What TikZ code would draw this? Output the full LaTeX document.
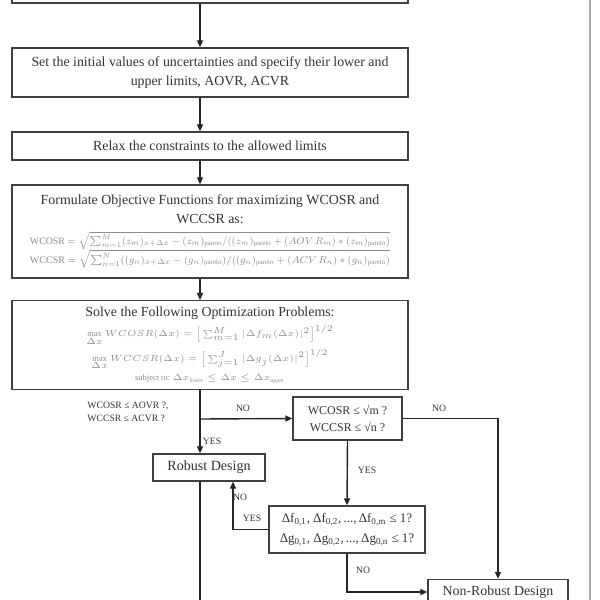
\documentclass[tikz,border=0pt]{standalone}
\usepackage{fontspec}
\setmainfont{Liberation Serif}
\usepackage{amsmath}
\usepackage{graphicx}
\usetikzlibrary{arrows.meta, positioning, calc}

\newcommand{\eqtxt}[1]{{\color{black!45}\fontsize{4.8}{6}\selectfont #1}}

\begin{document}
\begin{tikzpicture}[>={Triangle[length=4pt, width=3.5pt]}, line width=0.7pt,
    procbox/.style={draw=black!75, line width=0.8pt, minimum width=7.92cm,
      align=center, text=black!80, font=\fontsize{7.9}{10.8}\selectfont},
    testbox/.style={draw=black!75, line width=0.8pt, align=center,
      text=black!80, font=\fontsize{6.8}{10}\selectfont},
    flow/.style={->, draw=black!85, line width=0.8pt},
    lbl/.style={text=black!80, font=\fontsize{5.5}{7}\selectfont, inner sep=1pt}]
  \useasboundingbox (0,0) rectangle (12,-12);

  % main column
  \node[procbox, minimum height=0.6cm] (prev) at (4.2, 0.24) {};
  \node[procbox, minimum height=0.98cm] (init) at (4.2, -1.45)
    {Set the initial values of uncertainties and specify their lower and\\
     upper limits, AOVR, ACVR};
  \node[procbox, minimum height=0.56cm] (relax) at (4.2, -2.92)
    {Relax the constraints to the allowed limits};
  \node[procbox, minimum height=1.86cm] (objfun) at (4.2, -4.63)
    {Formulate Objective Functions for maximizing WCOSR and\\
     WCCSR as:\\[1pt]
     {\color{black!45}\resizebox{7.2cm}{!}{WCOSR
       $=\sqrt{\sum_{m=1}^{M}(z_m)_{x+\Delta x}-(z_m)_{\mathrm{pareto}}/((z_m)_{\mathrm{pareto}}+(AOV\,R_m)*(z_m)_{\mathrm{pareto}})}$}}\\
     {\color{black!45}\resizebox{7.2cm}{!}{WCCSR
       $=\sqrt{\sum_{n=1}^{N}((g_n)_{x+\Delta x}-(g_n)_{\mathrm{pareto}})/((g_n)_{\mathrm{pareto}}+(ACV\,R_n)*(g_n)_{\mathrm{pareto}})}$}}};
  \node[procbox, minimum height=1.72cm] (solve) at (4.2, -6.9)
    {Solve the Following Optimization Problems:\\[1pt]
     \eqtxt{$\max\limits_{\Delta x} WCOSR(\Delta x)=\Big[\sum_{m=1}^{M}|\Delta f_m(\Delta x)|^2\Big]^{1/2}$}\\[1pt]
     \eqtxt{$\max\limits_{\Delta x} WCCSR(\Delta x)=\Big[\sum_{j=1}^{J}|\Delta g_j(\Delta x)|^2\Big]^{1/2}$}\\
     \eqtxt{subject to: $\Delta x_{\mathrm{lower}}\le\Delta x\le\Delta x_{\mathrm{upper}}$}};

  % decisions and results
  \coordinate (trunk) at (4.0, 0);
  \coordinate (split) at (4.0, -8.38);
  \node[testbox, minimum width=2.18cm, minimum height=0.86cm] (sqrtchk) at (6.95, -8.37)
    {WCOSR ≤ √m ?\\ WCCSR ≤ √n ?};
  \node[testbox, minimum width=2.24cm, minimum height=0.54cm,
        font=\fontsize{8}{9}\selectfont] (robust) at (4.18, -9.35) {Robust Design};
  \node[testbox, minimum width=3.12cm, minimum height=0.94cm,
        font=\fontsize{7.4}{11.5}\selectfont] (dchk) at (6.94, -10.59)
    {Δf\textsubscript{0,1}, Δf\textsubscript{0,2},\,...,\,Δf\textsubscript{0,m} ≤ 1?\\
     Δg\textsubscript{0,1}, Δg\textsubscript{0,2},\,...,\,Δg\textsubscript{0,n} ≤ 1?};
  \node[testbox, minimum width=2.8cm, minimum height=0.5cm,
        font=\fontsize{7.9}{9}\selectfont] (nonrobust) at (9.96, -11.84) {Non-Robust Design};
  \coordinate (exit) at (4.0, -12.3);

  % arrows
  \draw[flow] (prev.south -| trunk) -- (init.north -| trunk);
  \draw[flow] (init.south -| trunk) -- (relax.north -| trunk);
  \draw[flow] (relax.south -| trunk) -- (objfun.north -| trunk);
  \draw[flow] (objfun.south -| trunk) -- (solve.north -| trunk);
  \draw[flow] (solve.south -| trunk) -- (robust.north -| trunk);
  \draw[flow] (split) -- (sqrtchk.west);
  \draw[flow] (sqrtchk.east) -| (nonrobust.north);
  \draw[flow] (sqrtchk.south) -- (dchk.north);
  \draw[flow] (dchk.west) -| ($(robust.south)+(0.48,0)$);
  \draw[flow] (dchk.south) |- (nonrobust.west);
  \draw[draw=black!85, line width=0.8pt] (robust.south -| trunk) -- (exit);

  % labels
  \node[lbl, align=left] (cond) at (2.56, -8.24) {WCOSR ≤ AOVR ?,\\ WCCSR ≤ ACVR ?};
  \node[lbl] (no1) at (4.86, -8.16) {NO};
  \node[lbl] (yes1) at (4.24, -8.82) {YES};
  \node[lbl] (no2) at (8.78, -8.16) {NO};
  \node[lbl] (yes2) at (7.34, -9.4) {YES};
  \node[lbl] (no3) at (4.8, -9.94) {NO};
  \node[lbl] (yes3) at (5.04, -10.36) {YES};
  \node[lbl] (no4) at (7.26, -11.4) {NO};

  % page edge
  \draw[black!35, line width=0.6pt] (11.8, 0) -- (11.8, -12);
\end{tikzpicture}
\end{document}
